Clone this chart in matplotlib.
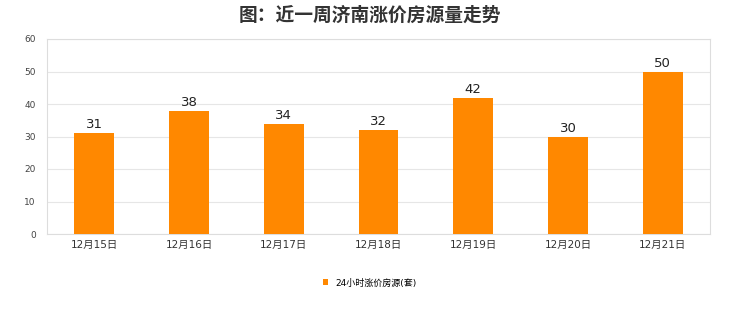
import matplotlib.pyplot as plt
import numpy as np

plt.rcParams['font.family'] = ['DejaVu Sans', 'Noto Sans CJK SC']

## data
dates = ["12月15日", "12月16日", "12月17日", "12月18日", "12月19日", "12月20日", "12月21日"]
counts = [31, 38, 34, 32, 42, 30, 50]
series_name = "24小时涨价房源(套)"
title = "图：近一周济南涨价房源量走势"

## PLOT
fig = plt.figure(figsize=(7.4, 3.12), dpi=100)
ax = fig.add_axes([47/740, 1-234/312, 663/740, 195/312])

x = np.arange(len(dates))
bars = ax.bar(x, counts, width=0.42, color="#FF8800", zorder=3, label=series_name)
for xi, v in zip(x, counts):
    ax.text(xi, v + 0.6, str(v), ha="center", va="bottom", fontsize=9.5, color="#222222")

ax.set_xlim(-0.5, len(dates) - 0.5)
ax.set_ylim(0, 60)
ax.set_yticks(range(0, 61, 10))
ax.set_xticks(x)
ax.set_xticklabels(dates, fontsize=7.5, color="#333333")
ax.tick_params(axis="y", labelsize=6.5, labelcolor="#444444", length=0, pad=8)
ax.tick_params(axis="x", length=0, pad=4)
ax.grid(axis="y", color="#E6E6E6", linewidth=0.8, zorder=0)
for s in ax.spines.values():
    s.set_color("#DDDDDD")
    s.set_linewidth(0.8)

fig.text(0.5, 1-15/312, title, ha="center", va="center", fontsize=13.5, fontweight="bold",
         family=["Noto Sans CJK SC", "DejaVu Sans"], color="#333333")

fig.legend(handles=[bars], labels=[series_name], loc="center", bbox_to_anchor=(0.5, 1-283/312),
           frameon=False, fontsize=6.5, handlelength=0.6, handleheight=0.6, handletextpad=0.8)

plt.savefig("out.png", dpi=100)
plt.close(fig)
